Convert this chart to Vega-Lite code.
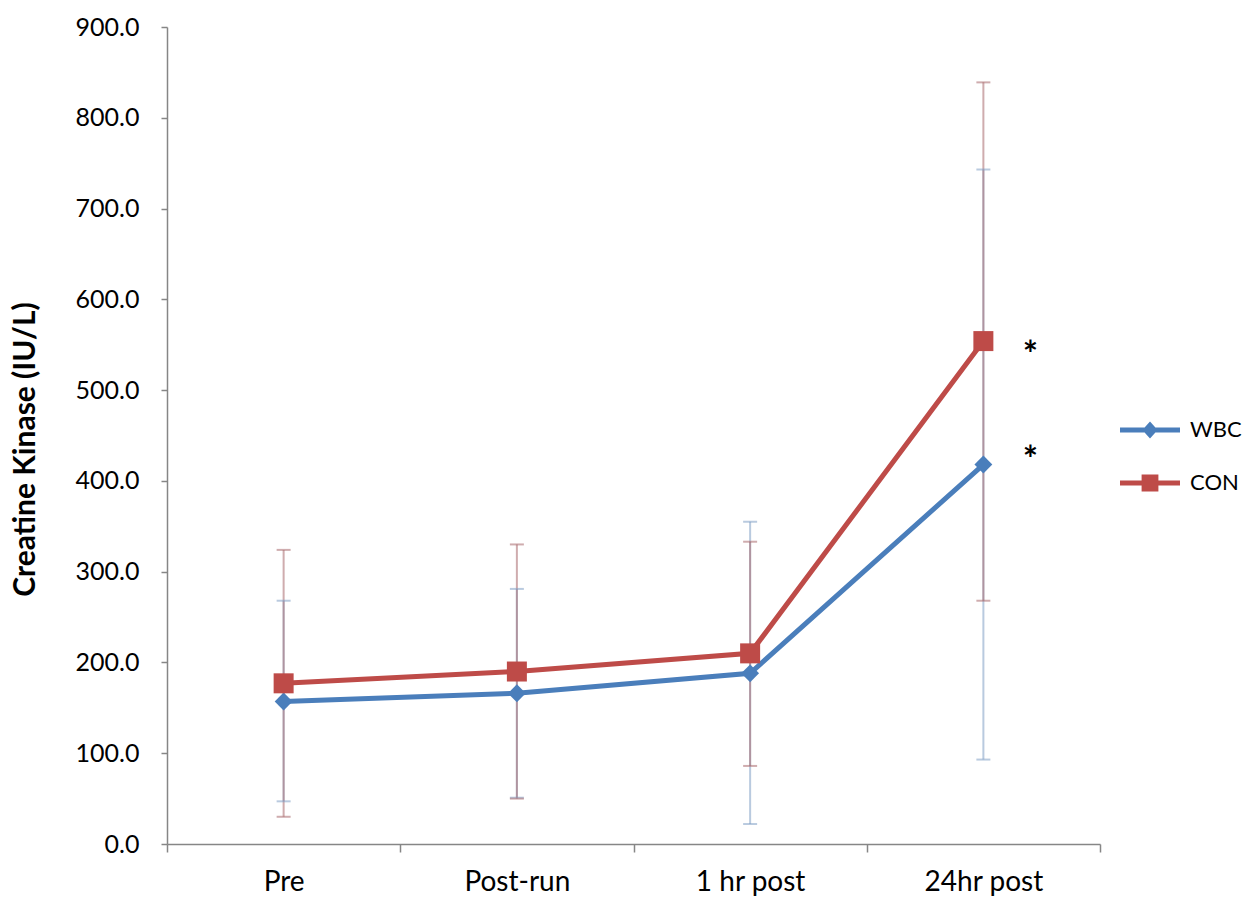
{
  "$schema": "https://vega.github.io/schema/vega-lite/v6.json",
  "width": 933,
  "height": 817,
  "autosize": "none",
  "padding": {"left": 167, "top": 27, "right": 143, "bottom": 53},
  "background": "white",
  "config": {
    "view": {"stroke": null},
    "font": "Lato",
    "axis": {"labelFont": "Lato", "titleFont": "Lato", "labelColor": "#000", "titleColor": "#000", "domainColor": "#868686", "tickColor": "#868686", "domainWidth": 1.5, "tickWidth": 1.5, "grid": false}
  },
  "data": {
    "values": [
      {"time": "Pre", "group": "WBC", "mean": 157, "lo": 47, "hi": 268},
      {"time": "Post-run", "group": "WBC", "mean": 166, "lo": 51, "hi": 281},
      {"time": "1 hr post", "group": "WBC", "mean": 188, "lo": 22, "hi": 355},
      {"time": "24hr post", "group": "WBC", "mean": 418, "lo": 93, "hi": 743},
      {"time": "Pre", "group": "CON", "mean": 177, "lo": 30, "hi": 324},
      {"time": "Post-run", "group": "CON", "mean": 190, "lo": 50, "hi": 330},
      {"time": "1 hr post", "group": "CON", "mean": 210, "lo": 86, "hi": 333},
      {"time": "24hr post", "group": "CON", "mean": 554, "lo": 268, "hi": 839}
    ]
  },
  "encoding": {
    "x": {
      "field": "time", "type": "nominal",
      "sort": ["Pre", "Post-run", "1 hr post", "24hr post"],
      "scale": {"type": "band", "paddingInner": 0, "paddingOuter": 0},
      "axis": {"title": null, "labelAngle": 0, "labelFontSize": 28, "labelPadding": 16, "tickBand": "extent", "tickSize": 8}
    }
  },
  "layer": [
    {
      "mark": {"type": "rule", "strokeWidth": 2, "opacity": 0.55},
      "encoding": {
        "y": {"field": "lo", "type": "quantitative"},
        "y2": {"field": "hi"},
        "color": {"field": "group", "type": "nominal", "scale": {"domain": ["WBC", "CON"], "range": ["#7f9fc4", "#a8686b"]}, "legend": null}
      }
    },
    {
      "mark": {"type": "tick", "thickness": 2, "size": 14, "opacity": 0.55},
      "encoding": {
        "y": {"field": "lo", "type": "quantitative"},
        "color": {"field": "group", "type": "nominal", "scale": {"domain": ["WBC", "CON"], "range": ["#7f9fc4", "#a8686b"]}, "legend": null}
      }
    },
    {
      "mark": {"type": "tick", "thickness": 2, "size": 14, "opacity": 0.55},
      "encoding": {
        "y": {"field": "hi", "type": "quantitative"},
        "color": {"field": "group", "type": "nominal", "scale": {"domain": ["WBC", "CON"], "range": ["#7f9fc4", "#a8686b"]}, "legend": null}
      }
    },
    {
      "mark": {"type": "line", "strokeWidth": 5},
      "encoding": {
        "y": {
          "field": "mean", "type": "quantitative",
          "scale": {"domain": [0, 900], "nice": false},
          "axis": {"title": "Creatine Kinase (IU/L)", "titleFontSize": 30, "titleFontWeight": "bold", "titlePadding": 35, "titleY": 422, "labelFontSize": 25, "format": ".1f", "values": [0, 100, 200, 300, 400, 500, 600, 700, 800, 900], "tickSize": 6, "labelPadding": 22}
        },
        "stroke": {
          "field": "group", "type": "nominal",
          "scale": {"domain": ["WBC", "CON"], "range": ["#4A7EBB", "#BE4B48"]},
          "legend": {
            "title": null, "orient": "none", "legendX": 953, "legendY": 373,
            "symbolSize": 3600, "labelFontSize": 22, "labelOffset": 10, "rowPadding": 12, "padding": 0,
            "encode": {
              "symbols": {
                "update": {
                  "shape": {"signal": "datum.value === 'WBC' ? 'M-1,-0.083L-0.18,-0.083L0,-0.28L0.18,-0.083L1,-0.083L1,0.083L0.18,0.083L0,0.28L-0.18,0.083L-1,0.083Z' : 'M-1,-0.083L-0.28,-0.083L-0.28,-0.28L0.28,-0.28L0.28,-0.083L1,-0.083L1,0.083L0.28,0.083L0.28,0.28L-0.28,0.28L-0.28,0.083L-1,0.083Z'"},
                  "fill": {"signal": "datum.value === 'WBC' ? '#4A7EBB' : '#BE4B48'"},
                  "fillOpacity": {"value": 1},
                  "strokeWidth": {"value": 0}
                }
              }
            }
          }
        }
      }
    },
    {
      "transform": [{"filter": "datum.group === 'WBC'"}],
      "mark": {"type": "point", "filled": true, "opacity": 1, "shape": "diamond", "size": 320, "color": "#4A7EBB"},
      "encoding": {
        "y": {"field": "mean", "type": "quantitative"}
      }
    },
    {
      "transform": [{"filter": "datum.group === 'CON'"}],
      "mark": {"type": "point", "filled": true, "opacity": 1, "shape": "square", "size": 400, "color": "#BE4B48"},
      "encoding": {
        "y": {"field": "mean", "type": "quantitative"}
      }
    },
    {
      "data": {"values": [{"time": "24hr post", "star": 549, "label": "*"}, {"time": "24hr post", "star": 433, "label": "*"}]},
      "mark": {"type": "text", "fontSize": 36, "fontWeight": "bold", "font": "Lato", "dx": 47, "dy": 10, "baseline": "middle", "color": "#000"},
      "encoding": {
        "y": {"field": "star", "type": "quantitative"},
        "text": {"field": "label"}
      }
    }
  ],
  "resolve": {"scale": {"color": "independent"}}
}
